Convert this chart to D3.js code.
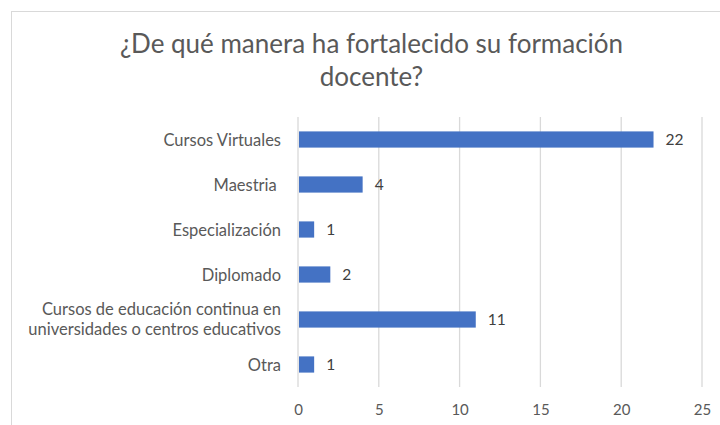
<!DOCTYPE html>
<html><head><meta charset="utf-8">
<script src="https://cdn.jsdelivr.net/npm/d3@7"></script>
<style>body{margin:0;background:#fff}svg{display:block}text{font-family:Lato,"Open Sans",sans-serif;white-space:pre}</style>
</head><body>
<svg id="c" width="720" height="425"></svg>
<script>
const categories = ["Cursos Virtuales","Maestria ","Especialización","Diplomado","Cursos de educación continua en|universidades o centros educativos","Otra"];
const values = [22,4,1,2,11,1];
const ticks = [0,5,10,15,20,25];
const title = ["¿De qué manera ha fortalecido su formación","docente?"];

const svg = d3.select("#c");
svg.append("rect").attr("x",11.5).attr("y",11.5).attr("width",720).attr("height",430)
  .attr("fill","#fff").attr("stroke","#d9d9d9");

const x = d3.scaleLinear().domain([0,25]).range([298,702]);
const y = d3.scaleBand().domain(categories).range([117,387]).paddingInner(0.64).paddingOuter(0.32);

svg.append("g").selectAll("line").data(ticks).join("line")
  .attr("x1",d=>x(d)).attr("x2",d=>x(d)).attr("y1",117).attr("y2",387)
  .attr("stroke","#d9d9d9").attr("stroke-width",1.3);

svg.append("g").attr("transform","translate(0,410)")
  .call(d3.axisBottom(x).tickValues(ticks).tickSize(0).tickPadding(0))
  .call(g=>g.select(".domain").remove())
  .selectAll("text").attr("fill","#595959").attr("font-size",15).attr("dy","0.35em")
  .attr("font-family","Lato,sans-serif");

svg.append("g").selectAll("rect").data(values).join("rect")
  .attr("x",x(0)+1).attr("y",(d,i)=>y(categories[i]))
  .attr("width",d=>x(d)-x(0)-1).attr("height",y.bandwidth()).attr("fill","#4472C4");

svg.append("g").selectAll("text").data(values).join("text")
  .attr("x",d=>x(d)+12).attr("y",(d,i)=>y(categories[i])+y.bandwidth()/2)
  .attr("dy","0.38em").attr("fill","#404040").attr("font-size",15.5).text(d=>d);

const lab = svg.append("g").selectAll("text").data(categories).join("text")
  .attr("x",281).attr("text-anchor","end").attr("fill","#595959").attr("font-size",16.5)
  .attr("y",d=>y(d)+y.bandwidth()/2);
lab.each(function(d){
  const parts = d.split("|");
  const t = d3.select(this);
  if (parts.length === 1) {
    t.append("tspan").attr("x",281).attr("dy","6").text(parts[0]);
  } else {
    parts.forEach((p,i)=>{
      t.append("tspan").attr("x",281).attr("dy", i===0 ? "-5" : "20").text(p);
    });
  }
});

svg.append("g").selectAll("text").data(title).join("text")
  .attr("x",371.5).attr("y",(d,i)=>53+i*33).attr("text-anchor","middle")
  .attr("fill","#595959").attr("font-size",26).text(d=>d);
</script>
</body></html>
